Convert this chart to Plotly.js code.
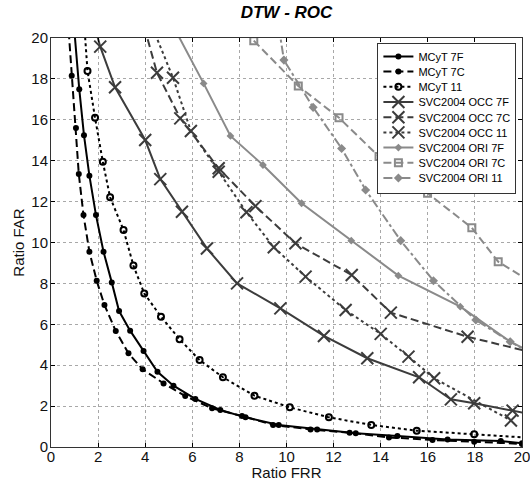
<!DOCTYPE html>
<html><head><meta charset="utf-8">
<script src="https://cdn.plot.ly/plotly-3.0.1.min.js"></script>
<style>html,body{margin:0;padding:0;background:#fff}#chart{width:530px;height:481px}</style>
</head><body><div id="chart"></div>
<script>
// MCyT
var mcyt7F_x = [0.91, 1.2, 1.40, 1.63, 1.91, 2.23, 2.58, 2.89, 3.36, 3.93, 4.52, 5.2, 6.13, 7.19, 8.26, 9.67, 11.3, 12.94, 14.71, 16.84, 19.1, 20];
var mcyt7F_y = [21.5, 17.5, 15.25, 13.27, 11.34, 9.55, 8.05, 6.65, 5.69, 4.69, 3.68, 3.0, 2.35, 1.81, 1.45, 1.08, 0.86, 0.67, 0.54, 0.37, 0.29, 0.18];
var mcyt7C_x = [0.68, 0.88, 1.06, 1.18, 1.38, 1.63, 1.94, 2.27, 2.75, 3.29, 3.89, 4.78, 5.7, 6.84, 8.11, 9.43, 11.02, 12.68, 14.35, 16.2, 17.97, 20];
var mcyt7C_y = [21.5, 18.16, 15.6, 13.35, 11.34, 9.55, 8.13, 6.94, 5.67, 4.58, 3.8, 3.11, 2.49, 1.89, 1.52, 1.08, 0.86, 0.7, 0.47, 0.34, 0.26, 0.15];
var mcyt11_x = [1.36, 1.55, 1.87, 2.2, 2.51, 3.08, 3.5, 3.96, 4.67, 5.46, 6.31, 7.3, 8.64, 10.14, 11.8, 13.6, 15.53, 17.97, 20.3];
var mcyt11_y = [21.5, 18.39, 16.1, 13.95, 12.21, 10.61, 8.87, 7.51, 6.37, 5.27, 4.25, 3.41, 2.51, 1.94, 1.45, 1.08, 0.8, 0.62, 0.45];
// SVC2004 OCC
var occ7F_x = [1.75, 2.09, 2.72, 4.0, 4.64, 5.56, 6.62, 7.9, 9.74, 11.59, 13.43, 15.63, 16.98, 17.97, 19.6, 20.4];
var occ7F_y = [21, 19.58, 17.59, 15.01, 13.1, 11.5, 9.71, 8.0, 6.78, 5.43, 4.34, 3.41, 2.33, 2.14, 1.78, 1.6];
var occ7C_x = [3.97, 4.5, 5.49, 7.12, 8.68, 10.38, 12.77, 14.43, 17.69, 20.3];
var occ7C_y = [20.5, 18.3, 16.07, 13.63, 11.78, 9.96, 8.41, 6.57, 5.39, 4.66];
var occ11_x = [4.14, 5.18, 5.94, 7.12, 8.3, 9.46, 10.81, 12.51, 14.0, 15.18, 16.27, 19.53];
var occ11_y = [21, 18.06, 15.45, 13.46, 11.48, 9.77, 8.33, 6.7, 5.53, 4.42, 3.36, 1.3];
// SVC2004 ORI
var ori7F_x = [5.0, 6.48, 7.62, 9.0, 10.64, 12.75, 14.75, 17.38, 19.5, 20.2];
var ori7F_y = [21, 17.78, 15.21, 13.79, 11.92, 10.09, 8.38, 6.86, 5.15, 4.75];
var ori7C_x = [8.61, 10.5, 12.23, 13.93, 15.99, 17.87, 18.99, 20.2];
var ori7C_y = [19.87, 17.65, 16.1, 14.2, 12.41, 10.72, 9.06, 8.2];
var ori11_x = [9.68, 9.89, 11.13, 12.34, 13.36, 14.85, 16.24, 18.04, 19.5, 20.2];
var ori11_y = [20.5, 18.92, 16.61, 14.6, 12.57, 10.09, 8.13, 6.21, 5.15, 4.7];

var names = ['MCyT 7F','MCyT 7C','MCyT 11','SVC2004 OCC 7F','SVC2004 OCC 7C','SVC2004 OCC 11','SVC2004 ORI 7F','SVC2004 ORI 7C','SVC2004 ORI 11'];
var tickVals = [0,2,4,6,8,10,12,14,16,18,20];

var cBlack = '#000000', cDark = '#3c3c3c', cLight = '#8a8a8a';
function tr(name, x, y, color, dash, sym, size, mline){
  return {type:'scatter', mode:'lines+markers', name:name, x:x, y:y,
    line:{color:color, width:2, dash:dash},
    marker:{symbol:sym, size:size, color:color, line:{color:color, width:mline}},
    cliponaxis:true};
}
var data = [
  tr(names[0], mcyt7F_x, mcyt7F_y, cBlack, 'solid', 'circle', 6, 0),
  tr(names[1], mcyt7C_x, mcyt7C_y, cBlack, '8px,4px', 'circle', 6, 0),
  tr(names[2], mcyt11_x, mcyt11_y, cBlack, 'dot', 'circle-open', 6, 2),
  tr(names[3], occ7F_x, occ7F_y, cDark, 'solid', 'x-thin-open', 12, 2),
  tr(names[4], occ7C_x, occ7C_y, cDark, '8px,4px', 'x-thin-open', 12, 2),
  tr(names[5], occ11_x, occ11_y, cDark, 'dot', 'x-thin-open', 12, 2),
  tr(names[6], ori7F_x, ori7F_y, cLight, 'solid', 'diamond', 6, 0),
  tr(names[7], ori7C_x, ori7C_y, cLight, '8px,4px', 'square-open', 7, 2),
  tr(names[8], ori11_x, ori11_y, cLight, 'dashdot', 'diamond', 7, 0)
];

var axisCommon = {
  range:[0,20], tickvals:tickVals, ticks:'inside', ticklen:4, tickcolor:'#000',
  showline:true, mirror:'ticks', linecolor:'#333', linewidth:1, automargin:false,
  ticklabeloverflow:'allow',
  showgrid:true, gridcolor:'#a8a8a8', griddash:'dot', gridwidth:1,
  zeroline:false, tickfont:{family:'Liberation Sans, Arial, sans-serif', size:15, color:'#111'}
};
var layout = {
  width:530, height:481,
  margin:{l:51, r:8, t:38, b:34},
  paper_bgcolor:'#fff', plot_bgcolor:'#fff',
  font:{family:'Liberation Sans, Arial, sans-serif', color:'#111'},
  title:{text:'<b><i>DTW - ROC</i></b>', x:0.5, xref:'paper', y:0.975, yref:'container', yanchor:'middle',
    font:{size:17, color:'#000', family:'Liberation Sans, Arial, sans-serif'}},
  xaxis:Object.assign({}, axisCommon, {ticklabelstandoff:-4, title:{text:'Ratio FRR', standoff:4, font:{size:15}}}),
  yaxis:Object.assign({}, axisCommon, {ticklabelstandoff:-1, title:{text:'Ratio FAR', standoff:3, font:{size:15}}}),
  showlegend:true,
  legend:{x:0.693, y:0.988, xanchor:'left', yanchor:'top', bgcolor:'#fff', bordercolor:'#333', borderwidth:1,
    font:{size:11, family:'Liberation Sans, Arial, sans-serif', color:'#000'}, itemwidth:30, tracegroupgap:0}
};
var gd = document.getElementById('chart');
Plotly.newPlot(gd, data, layout, {staticPlot:true, displayModeBar:false}).then(function(){
  // tighten legend row spacing to match the reference
  var items = gd.querySelectorAll('.legend .traces');
  if (!items.length) return;
  var step = 15.2, oldStep = null, x0 = 0, y0 = 0;
  var m0 = /translate\(([-\d.]+),\s*([-\d.]+)\)/.exec(items[0].getAttribute('transform'));
  if (items.length > 1) {
    var m1 = /translate\(([-\d.]+),\s*([-\d.]+)\)/.exec(items[1].getAttribute('transform'));
    oldStep = parseFloat(m1[2]) - parseFloat(m0[2]);
  }
  x0 = parseFloat(m0[1]); y0 = parseFloat(m0[2]) - 2;
  items.forEach(function(el, i){ el.setAttribute('transform', 'translate(' + x0 + ',' + (y0 + i * step) + ')'); });
  var bg = gd.querySelector('.legend .bg');
  if (bg && oldStep) {
    var h = parseFloat(bg.getAttribute('height'));
    bg.setAttribute('height', h - (oldStep - step) * (items.length) + 2);
  }
});
</script></body></html>
